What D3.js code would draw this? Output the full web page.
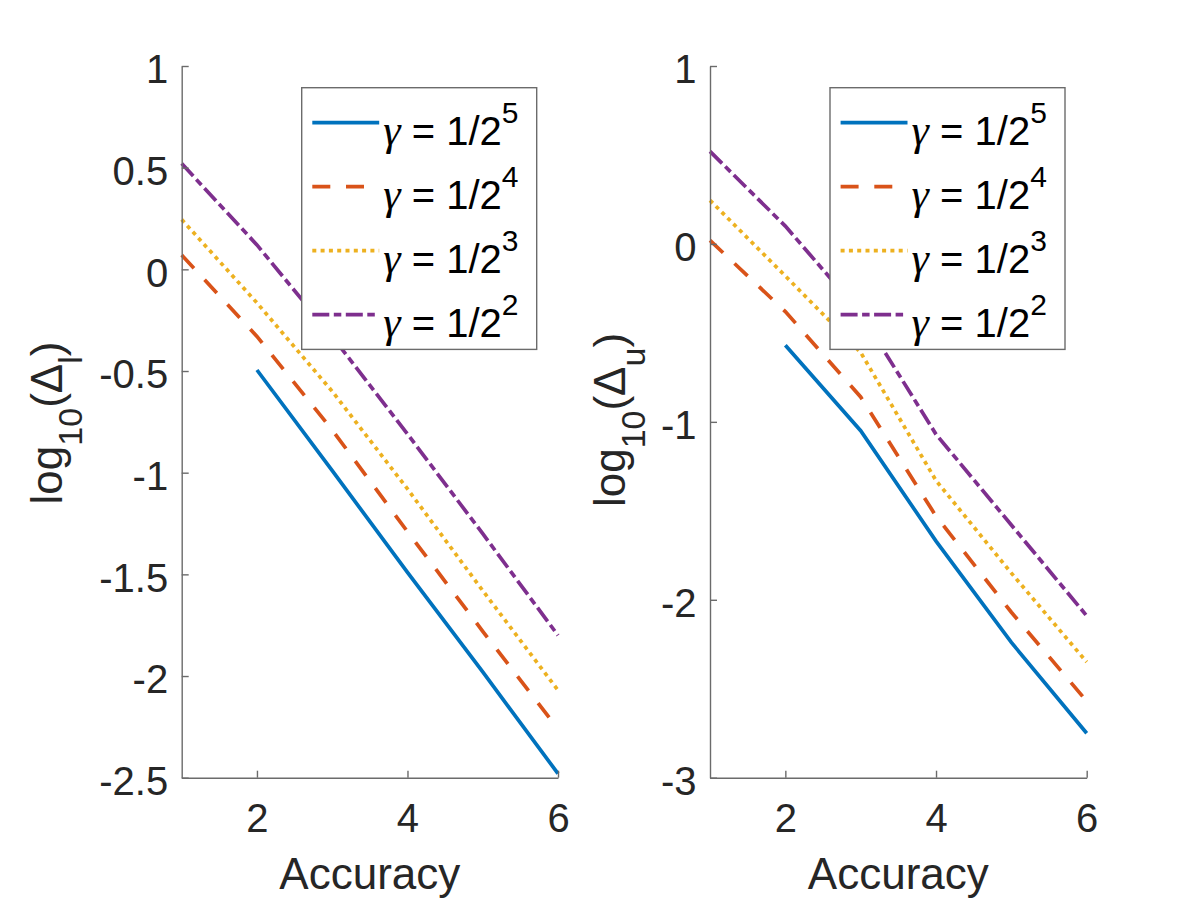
<!DOCTYPE html>
<html>
<head>
<meta charset="utf-8">
<script src="https://cdn.jsdelivr.net/npm/d3@7"></script>
<style>
  body { margin: 0; background: #fff; }
  svg { display: block; }
  text { font-family: "Liberation Sans", Arial, Helvetica, sans-serif; }
</style>
</head>
<body>
<script>

// x values and tick labels
var accuracy = [1, 2, 3, 4, 5, 6];
var xTicks = [2, 4, 6];
var lowerTicks = [-2.5, -2, -1.5, -1, -0.5, 0, 0.5, 1];
var upperTicks = [-3, -2, -1, 0, 1];

// legend exponents, gamma = 1/2^k
var gammaExp = [5, 4, 3, 2];

// log10(Delta_l), one array per gamma
var lowerG5 = [null, -0.495, -0.99, -1.49, -1.98, -2.48];
var lowerG4 = [0.07, -0.33, -0.79, -1.29, -1.78, -2.26];
var lowerG3 = [0.245, -0.165, -0.60, -1.08, -1.58, -2.07];
var lowerG2 = [0.52, 0.12, -0.33, -0.81, -1.30, -1.80];

// log10(Delta_u), one array per gamma
var upperG5 = [null, -0.57, -1.05, -1.67, -2.24, -2.75];
var upperG4 = [0.02, -0.38, -0.86, -1.53, -2.07, -2.57];
var upperG3 = [0.245, -0.18, -0.61, -1.33, -1.85, -2.35];
var upperG2 = [0.52, 0.10, -0.39, -1.07, -1.58, -2.09];

// line styles per series (MATLAB default colours)
var styles = [
  {color: "#0072BD", dash: null},
  {color: "#D95319", dash: "18,15.7"},
  {color: "#EDB120", dash: "4,4.3"},
  {color: "#7E2F8E", dash: "17,4.5,7.5,4.5"}
];

var width = 1200, height = 900;
var plotTop = 66, plotBottom = 777.7;

var panels = [
  {left: 181.7, right: 558, domain: [-2.5, 1], ticks: lowerTicks,
   series: [lowerG5, lowerG4, lowerG3, lowerG2], sub: "l", labelX: 62, labelY: 423, legendX: 301.7},
  {left: 710, right: 1086.7, domain: [-3, 1], ticks: upperTicks,
   series: [upperG5, upperG4, upperG3, upperG2], sub: "u", labelX: 625, labelY: 420, legendX: 830}
];

var svg = d3.select("body")
  .append("svg")
  .attr("width", width)
  .attr("height", height);

svg.append("rect")
  .attr("width", width)
  .attr("height", height)
  .attr("fill", "#fff");

panels.forEach(function(p) {

  // scales
  var x = d3.scaleLinear().domain([1, 6]).range([p.left, p.right]);
  var y = d3.scaleLinear().domain(p.domain).range([plotBottom, plotTop]);

  var g = svg.append("g");

  // draw lines first so the legend sits on top
  var line = d3.line()
    .defined(function(d) { return d.v !== null; })
    .x(function(d) { return x(d.a); })
    .y(function(d) { return y(d.v); });

  p.series.forEach(function(s, i) {
    var pts = accuracy.map(function(a, j) { return {a: a, v: s[j]}; });
    g.append("path")
      .datum(pts)
      .attr("d", line)
      .attr("fill", "none")
      .attr("stroke", styles[i].color)
      .attr("stroke-width", 3.7)
      .attr("stroke-dasharray", styles[i].dash);
  });

  // y axis, ticks pointing inward
  var yAxis = d3.axisLeft(y)
    .tickValues(p.ticks)
    .tickSizeInner(-7)
    .tickSizeOuter(0)
    .tickFormat(function(d) { return String(d); });

  var ya = g.append("g")
    .attr("transform", "translate(" + p.left + ",0)")
    .call(yAxis);

  ya.selectAll("text")
    .attr("x", -13.5)
    .attr("dy", "0.42em")
    .attr("font-size", 40)
    .attr("font-family", "Liberation Sans, Arial, sans-serif")
    .attr("fill", "#262626");

  // x axis
  var xAxis = d3.axisBottom(x)
    .tickValues(xTicks)
    .tickSizeInner(-7)
    .tickSizeOuter(0)
    .tickFormat(function(d) { return String(d); });

  var xa = g.append("g")
    .attr("transform", "translate(0," + plotBottom + ")")
    .call(xAxis);

  xa.selectAll("text")
    .attr("y", 54)
    .attr("dy", 0)
    .attr("font-size", 40)
    .attr("font-family", "Liberation Sans, Arial, sans-serif")
    .attr("fill", "#262626");

  [ya, xa].forEach(function(a) {
    a.select(".domain").attr("stroke", "#6b6b6b").attr("stroke-width", 1.4);
    a.selectAll(".tick line").attr("stroke", "#6b6b6b").attr("stroke-width", 1.4);
  });

  // x axis title
  g.append("text")
    .attr("x", (p.left + p.right) / 2)
    .attr("y", 888.5)
    .attr("text-anchor", "middle")
    .attr("font-size", 44)
    .attr("fill", "#262626")
    .text("Accuracy");

  // y axis title with subscripts
  var yl = g.append("text")
    .attr("transform", "translate(" + p.labelX + "," + p.labelY + ") rotate(-90)")
    .attr("text-anchor", "middle")
    .attr("font-size", 44)
    .attr("fill", "#262626");
  yl.append("tspan").text("log");
  yl.append("tspan").attr("font-size", 34).attr("dy", 20).text("10");
  yl.append("tspan").attr("dy", -20).text("(\u0394");
  yl.append("tspan").attr("font-size", 34).attr("dy", 20).text(p.sub);
  yl.append("tspan").attr("dy", -20).text(")");

  // legend
  var lg = g.append("g")
    .attr("transform", "translate(" + p.legendX + ",87.7)");

  lg.append("rect")
    .attr("width", 235)
    .attr("height", 261.7)
    .attr("fill", "#fff")
    .attr("stroke", "#6b6b6b")
    .attr("stroke-width", 1.4);

  gammaExp.forEach(function(k, i) {
    var ly = 35 + i * 64;
    lg.append("line")
      .attr("x1", 10.6)
      .attr("x2", 77.5)
      .attr("y1", ly)
      .attr("y2", ly)
      .attr("stroke", styles[i].color)
      .attr("stroke-width", 3.7)
      .attr("stroke-dasharray", styles[i].dash);

    var t = lg.append("text")
      .attr("x", 81.6)
      .attr("y", ly + 22.3)
      .attr("font-size", 40)
      .attr("fill", "#000");
    t.append("tspan")
      .attr("font-family", "Liberation Serif, serif")
      .attr("font-style", "italic")
      .attr("font-size", 44)
      .text("\u03B3");
    t.append("tspan").text(" = 1/2");
    t.append("tspan").attr("font-size", 30).attr("dy", -21.7).text(k);
  });

});

</script>
</body>
</html>
